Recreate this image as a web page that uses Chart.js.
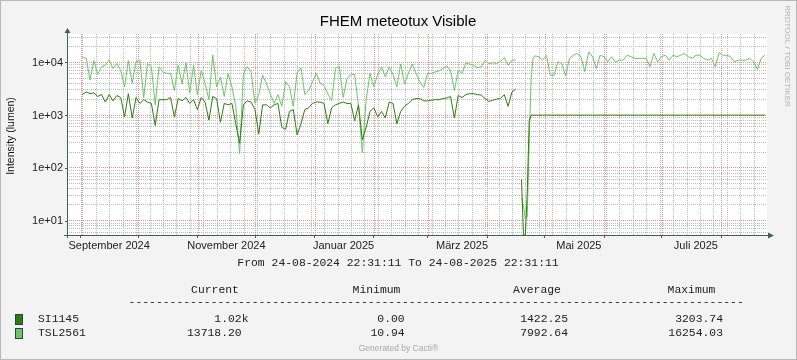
<!DOCTYPE html>
<html>
<head>
<meta charset="utf-8">
<script src="https://cdn.jsdelivr.net/npm/chart.js@4.4.1/dist/chart.umd.min.js"></script>
<style>
  html, body { margin: 0; padding: 0; background: #f3f3f3; }
  canvas { display: block; }
</style>
</head>
<body>
<canvas id="chart-visible" width="797" height="360"></canvas>
<script>
// days since 24-08-2024 22:31:11
const days = [
  8, 10, 12, 14, 16, 18, 20, 22, 24, 26, 28, 30, 32, 34, 36, 38, 40, 42, 44, 46,
  48, 50, 52, 54, 56, 58, 60, 62, 64, 66, 68, 70, 72, 74, 76, 78, 80, 82, 84, 86,
  88, 90, 92, 94, 96, 98, 100, 102, 104, 106, 108, 110, 112, 114, 116, 118, 120, 122, 124, 126,
  128, 130, 132, 134, 136, 138, 140, 142, 144, 146, 148, 150, 152, 154, 156, 158, 160, 162, 164, 166,
  168, 170, 172, 174, 176, 178, 180, 182, 184, 186, 188, 190, 192, 194, 196, 198, 200, 202, 204, 206,
  208, 210, 212, 214, 216, 218, 220, 222, 224, 226, 228, 230, 232, 234,
  236, 237, 238, 239, 240, 241, 242, 243,
  244, 246, 248, 250, 252, 254, 256, 258, 260, 262, 264, 266, 268, 270, 272, 274, 276, 278, 280, 282,
  284, 286, 288, 290, 292, 294, 296, 298, 300, 302, 304, 306, 308, 310, 312, 314, 316, 318, 320, 322,
  324, 326, 328, 330, 332, 334, 336, 338, 340, 342, 344, 346, 348, 350, 352, 354, 356, 358, 360, 362,
  364
];

const si1145 = [
  2500, 2800, 2600, 2700, 2300, 2500, 1800, 2500, 1900, 2400,
  2200, 950, 2600, 900, 2200, 1700, 2000, 1800, 1700, 650,
  2000, 2000, 2000, 2200, 950, 2100, 1900, 2200, 1700, 2000,
  1300, 2200, 1800, 820, 2300, 2100, 750, 1700, 1600, 1700,
  700, 300, 1600, 1900, 1800, 1300, 450, 1600, 1600, 1400,
  1600, 1700, 600, 550, 1200, 1300, 430, 700, 1300, 1400,
  1700, 1800, 1800, 1700, 700, 1400, 1600, 1700, 1800, 1700,
  1700, 800, 1600, 350, 600, 1200, 1400, 950, 1200, 900,
  1800, 1700, 700, 1200, 1500, 1700, 2000, 2100, 2100, 1900,
  1900, 1950, 2000, 2000, 2100, 2150, 2300, 900, 2400, 2200,
  2500, 2600, 2600, 2500, 2450, 2100, 1850, 1950, 2050, 2100,
  2500, 1500, 2800, 3200,
  null, 62, 0, 0, 36, 800, 1020, 1020,
  1020, 1020, 1020, 1020, 1020, 1020, 1020, 1020, 1020, 1020,
  1020, 1020, 1020, 1020, 1020, 1020, 1020, 1020, 1020, 1020,
  1020, 1020, 1020, 1020, 1020, 1020, 1020, 1020, 1020, 1020,
  1020, 1020, 1020, 1020, 1020, 1020, 1020, 1020, 1020, 1020,
  1020, 1020, 1020, 1020, 1020, 1020, 1020, 1020, 1020, 1020,
  1020, 1020, 1020, 1020, 1020, 1020, 1020, 1020, 1020, 1020,
  1020
];

const tsl2561 = [
  12900, 12100, 4700, 11000, 6000, 8400, 9000, 11200, 7800, 9700,
  7200, 3500, 11000, 4100, 10500, 11200, 2200, 9700, 8400, 1600,
  8400, 6700, 6300, 6300, 3000, 9000, 4000, 10000, 2700, 9000,
  2500, 7200, 4100, 2000, 14000, 3500, 5400, 2300, 6300, 3500,
  1500, 190, 6300, 8400, 6700, 1700, 2500, 5800, 4000, 2600,
  1700, 2500, 1500, 4400, 3500, 1500, 6500, 8000, 2500, 3000,
  4300, 6300, 4100, 3700, 2600, 1900, 7800, 8500, 2200, 5000,
  6000, 6000, 1500, 200, 2000, 6300, 3500, 6000, 8400, 5400,
  8400, 6000, 3500, 9500, 4000, 6300, 9500, 6300, 4300, 3400,
  6300, 6300, 6700, 7000, 7800, 8700, 7000, 3000, 7200, 6300,
  10000, 9400, 9000, 8100, 8400, 11000, 9500, 10000, 9700, 10400,
  12600, 9000, 11200, 11200,
  null, 28, 20, 11, 12, 300, 5000, 12000,
  13500, 13000, 11200, 13900, 5800, 5800, 10400, 9700, 5600, 12100,
  13900, 15000, 13000, 6800, 16100, 13000, 7800, 13900, 13000, 10400,
  13000, 10400, 11200, 11200, 13900, 13000, 12100, 12100, 12100, 12100,
  8400, 15000, 10400, 13000, 13900, 11200, 13900, 13000, 13900, 15000,
  13000, 12100, 13900, 13900, 12100, 11200, 12100, 8400, 15500, 13900,
  13900, 13000, 10400, 11200, 11200, 11200, 12100, 10400, 7500, 12100,
  13900
];

const monthLabels = ["September 2024", "November 2024", "Januar 2025", "März 2025", "Mai 2025", "Juli 2025"];
const monthLabelDays = [22.0, 83.1, 144.2, 206.0, 266.9, 327.9];
const yTickValues = [10, 100, 1000, 10000];
const yTickLabels = ["1e+01", "1e+02", "1e+03", "1e+04"];

const legendNames = ["SI1145", "TSL2561"];
const legendColors = ["#2E7D12", "#6EC46A"];
const legendCurrent = ["1.02k", "13718.20 "];
const legendMinimum = ["0.00", "10.94"];
const legendAverage = ["1422.25", "7992.64"];
const legendMaximum = ["3203.74", "16254.03"];

const Y_MIN = 5.5;
const Y_MAX = 35000;
const AXIS = "#40605a";
const MINOR = "#bcbcbc";
const MAJOR = "#ee8f8f";
const SANS = '"Liberation Sans", Arial, sans-serif';
const MONO = '"Liberation Mono", "DejaVu Sans Mono", monospace';

// calendar grid: month starts (major) and mondays (minor)
const START = Date.UTC(2024, 7, 24, 22, 31, 11);
const DAY = 86400000;
const dayOf = (y, m, d) => (Date.UTC(y, m, d) - START) / DAY;
const monthStarts = [];
for (let m = 8; m <= 19; m++) monthStarts.push(dayOf(2024, m, 1));
const mondays = [];
for (let d = dayOf(2024, 8, 2); d < 365; d += 7) mondays.push(d);

const toPoints = (arr) =>
  days.map((d, i) => ({ x: d, y: arr[i] === 0 ? Y_MIN : arr[i] }));

// rrdtool-like dotted grid, placed through the chart scales
const dotGrid = {
  id: "dotGrid",
  beforeDatasetsDraw(chart) {
    const { ctx, chartArea: a, scales } = chart;
    const vline = (x, color) => {
      const px = Math.round(x);
      ctx.fillStyle = color;
      for (let y = a.top; y < a.bottom; y += 2) ctx.fillRect(px, y, 1, 1);
    };
    const hline = (y, color) => {
      const py = Math.round(y) - 1;
      ctx.fillStyle = color;
      for (let x = a.left + 2; x < a.right; x += 2) ctx.fillRect(x, py, 1, 1);
    };
    ctx.save();
    ["minor", "major"].forEach((kind) => {
      const color = kind === "major" ? MAJOR : MINOR;
      scales.x.ticks.forEach((t) => { if (t.kind === kind) vline(scales.x.getPixelForValue(t.value), color); });
      scales.y.ticks.forEach((t) => { if (t.kind === kind) hline(scales.y.getPixelForValue(t.value), color); });
    });
    ctx.restore();
  },
};

const decor = {
  id: "decor",
  beforeDraw(chart) {
    const { ctx, chartArea: a } = chart;
    ctx.save();
    ctx.fillStyle = "#f3f3f3";
    ctx.fillRect(0, 0, chart.width, chart.height);
    ctx.strokeStyle = "#b8b8b8";
    ctx.lineWidth = 1;
    ctx.strokeRect(0.5, 0.5, chart.width - 1, chart.height - 1);
    ctx.fillStyle = "#ffffff";
    ctx.fillRect(a.left, a.top, a.right - a.left, a.bottom - a.top);
    ctx.restore();
  },
  afterDraw(chart) {
    const { ctx, chartArea: a } = chart;
    ctx.save();

    // axes with arrows
    ctx.strokeStyle = AXIS;
    ctx.fillStyle = AXIS;
    ctx.lineWidth = 1;
    const ax = a.left + 0.5;
    const ay = a.bottom + 0.5;
    ctx.beginPath();
    ctx.moveTo(ax, a.bottom + 3);
    ctx.lineTo(ax, a.top - 3);
    ctx.moveTo(a.left - 3, ay);
    ctx.lineTo(a.right + 3, ay);
    ctx.stroke();
    ctx.beginPath();
    ctx.moveTo(ax - 3, a.top - 1);
    ctx.lineTo(ax + 3, a.top - 1);
    ctx.lineTo(ax, a.top - 6);
    ctx.closePath();
    ctx.fill();
    ctx.beginPath();
    ctx.moveTo(a.right + 1, ay - 3);
    ctx.lineTo(a.right + 1, ay + 3);
    ctx.lineTo(a.right + 7, ay);
    ctx.closePath();
    ctx.fill();

    ctx.textBaseline = "middle";

    // title
    ctx.fillStyle = "#000";
    ctx.textAlign = "center";
    ctx.font = "15px " + SANS;
    ctx.fillText("FHEM meteotux Visible", 398, 22);

    // y title
    ctx.save();
    ctx.translate(11, 136);
    ctx.rotate(-Math.PI / 2);
    ctx.font = "10.5px " + SANS;
    ctx.fillStyle = "#111";
    ctx.fillText("Intensity (lumen)", 0, 0);
    ctx.restore();

    // watermark
    ctx.save();
    ctx.translate(787, 56);
    ctx.rotate(Math.PI / 2);
    ctx.font = "8px " + SANS;
    ctx.fillStyle = "#b4b4b4";
    ctx.fillText("RRDTOOL / TOBI OETIKER", 0, 0);
    ctx.restore();

    // legend block
    ctx.font = "11.4px " + MONO;
    ctx.fillStyle = "#222";
    ctx.fillText("From 24-08-2024 22:31:11 To 24-08-2025 22:31:11", 398, 263);
    ctx.fillText("Current", 215, 290);
    ctx.fillText("Minimum", 376.5, 290);
    ctx.fillText("Average", 537, 290);
    ctx.fillText("Maximum", 691.5, 290);
    ctx.textAlign = "left";
    ctx.fillText("-".repeat(90), 128.6, 302);

    const rowsY = [319, 333];
    legendNames.forEach((name, i) => {
      const y = rowsY[i];
      ctx.fillStyle = legendColors[i];
      ctx.fillRect(15.5, y - 4.5, 7, 10);
      ctx.strokeStyle = "#2a4444";
      ctx.strokeRect(15.5, y - 4.5, 7, 10);
      ctx.fillStyle = "#222";
      ctx.textAlign = "left";
      ctx.fillText(name, 38, y);
      ctx.textAlign = "right";
      ctx.fillText(legendCurrent[i], 248.5, y);
      ctx.fillText(legendMinimum[i], 404.7, y);
      ctx.fillText(legendAverage[i], 568, y);
      ctx.fillText(legendMaximum[i], 723, y);
    });

    ctx.textAlign = "center";
    ctx.font = "8.5px " + SANS;
    ctx.fillStyle = "#a8a8a8";
    ctx.fillText("Generated by Cacti®", 398.5, 349);

    ctx.restore();
  },
};

new Chart(document.getElementById("chart-visible"), {
  type: "line",
  data: {
    datasets: [
      {
        label: legendNames[0],
        data: toPoints(si1145),
        borderColor: legendColors[0],
        borderWidth: 1,
        pointRadius: 0,
        tension: 0,
        spanGaps: false,
      },
      {
        label: legendNames[1],
        data: toPoints(tsl2561),
        borderColor: legendColors[1],
        borderWidth: 1,
        pointRadius: 0,
        tension: 0,
        spanGaps: false,
      },
    ],
  },
  options: {
    responsive: false,
    animation: false,
    events: [],
    layout: { padding: { left: 0, right: 30, top: 34, bottom: 105 } },
    plugins: { legend: { display: false }, tooltip: { enabled: false } },
    scales: {
      x: {
        type: "linear",
        min: 0,
        max: 365,
        afterFit: (s) => { s.height = 20; },
        afterBuildTicks: (s) => {
          const t = [];
          mondays.forEach((v) => t.push({ value: v, kind: "minor" }));
          monthStarts.forEach((v) => t.push({ value: v, kind: "major" }));
          monthLabelDays.forEach((v, i) => t.push({ value: v, kind: "label", text: monthLabels[i] }));
          t.sort((p, q) => p.value - q.value);
          s.ticks = t;
        },
        border: { display: false },
        grid: {
          drawOnChartArea: false,
          tickColor: (c) => (c.tick && c.tick.kind === "major" ? AXIS : "rgba(0,0,0,0)"),
          tickLength: 3,
        },
        ticks: {
          autoSkip: false,
          maxRotation: 0,
          padding: 1,
          color: "#222",
          font: { family: SANS, size: 11 },
          callback: (v, i, ticks) => (ticks[i].kind === "label" ? ticks[i].text : ""),
        },
      },
      y: {
        type: "logarithmic",
        min: Y_MIN,
        max: Y_MAX,
        afterFit: (s) => { s.width = 67; },
        afterBuildTicks: (s) => {
          const t = [];
          for (let e = 0; e <= 4; e++) {
            for (let k = 1; k <= 9; k++) {
              const v = k * Math.pow(10, e);
              if (v >= Y_MIN && v <= Y_MAX) t.push({ value: v, kind: k === 1 ? "major" : "minor" });
            }
          }
          s.ticks = t;
        },
        border: { display: false },
        grid: {
          drawOnChartArea: false,
          tickColor: (c) => (c.tick && c.tick.kind === "major" ? AXIS : "rgba(0,0,0,0)"),
          tickLength: 2,
        },
        ticks: {
          autoSkip: false,
          padding: 2,
          color: "#222",
          font: { family: SANS, size: 11 },
          callback: (v) => {
            const idx = yTickValues.indexOf(v);
            return idx >= 0 ? yTickLabels[idx] : "";
          },
        },
      },
    },
  },
  plugins: [dotGrid, decor],
});
</script>
</body>
</html>
